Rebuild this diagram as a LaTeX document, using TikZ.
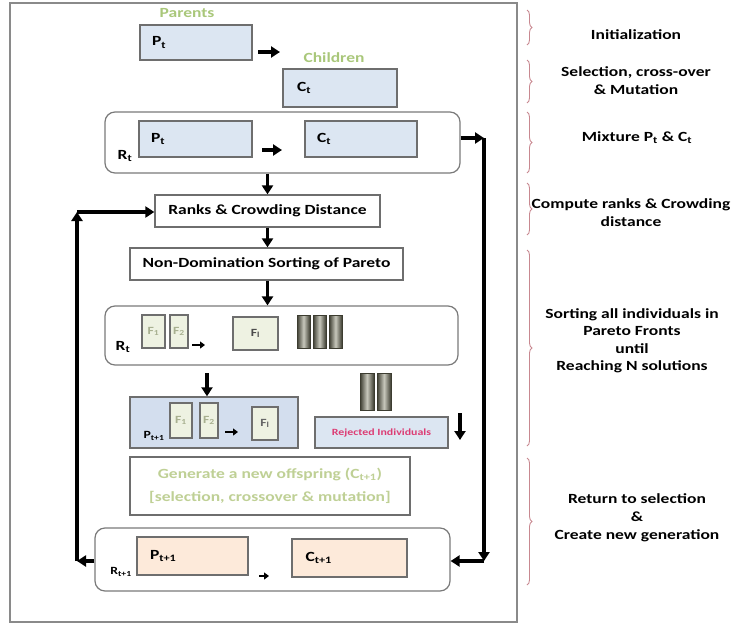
\documentclass[tikz,border=0pt]{standalone}
\usepackage{fontspec}
\setmainfont[FakeStretch=1.25]{Carlito}
\usetikzlibrary{arrows.meta,decorations.pathreplacing}
\definecolor{boxblue}{HTML}{DCE6F2}
\definecolor{boxblue2}{HTML}{D3DEEE}
\definecolor{peach}{HTML}{FDEADA}
\definecolor{fcream}{HTML}{EEF2E2}
\definecolor{boxline}{HTML}{6E6E6E}
\definecolor{roundline}{HTML}{7A7A7A}
\definecolor{frameline}{HTML}{8A8A8A}
\definecolor{lgreen}{HTML}{A9C77A}
\definecolor{pgreen}{HTML}{BFD095}
\definecolor{rejred}{HTML}{DC3C74}
\definecolor{bracecol}{HTML}{C88890}
\definecolor{bardark}{HTML}{3C3C30}
\definecolor{barlight}{HTML}{C8C8BC}
\definecolor{ftext}{HTML}{A8B090}
\begin{document}
\begin{tikzpicture}[x=1pt,y=-1pt,
  every node/.style={font=\fontsize{14}{17}\selectfont\bfseries},
  ar/.style={line width=3.3pt,-{Triangle[length=9pt,width=11pt]}},
  sar/.style={line width=2.8pt,-{Triangle[length=5pt,width=7pt]}},
  bluebox/.style={draw=boxline,line width=1.4pt,fill=boxblue,inner xsep=12pt,inner ysep=0pt,align=left},
  peachbox/.style={draw=boxline,line width=1.4pt,fill=peach,inner xsep=13pt,inner ysep=0pt,align=left},
  plainbox/.style={draw=boxline,line width=1.3pt,fill=white,inner sep=0pt,align=center},
  roundbox/.style={draw=roundline,line width=1.2pt,rounded corners=10pt,inner sep=0pt},
  fbox/.style={draw=boxline,line width=1.2pt,fill=fcream,inner sep=0pt,font=\fontsize{11}{12}\selectfont\bfseries,text=ftext},
  lab/.style={inner sep=0pt},
  grn/.style={inner sep=0pt,text=lgreen},
  rt/.style={inner sep=0pt,align=center,font=\fontsize{14}{18}\selectfont\bfseries},
  bracedeco/.style={draw=bracecol,line width=0.9pt,decorate,decoration={brace,amplitude=5pt}},
  bar/.style={draw=bardark,line width=0.6pt,left color=bardark,right color=bardark,middle color=barlight}
]
\useasboundingbox (0,0) rectangle (737,627);
% outer frame
\draw[frameline,line width=1.5pt] (10,3) rectangle (517,622);

% initialization
\node[grn] (parents) at (187,13) {Parents};
\node[bluebox,text width=88pt,minimum height=35pt] (Pt) at (196,42.5) {P\textsubscript{t}};
\coordinate (a1s) at (258,52);
\coordinate (a1e) at (280,52);
\draw[ar] (a1s) -- (a1e);
\node[grn] (children) at (334,58) {Children};
\node[bluebox,text width=86pt,minimum height=38pt,inner xsep=14pt] (Ct) at (340,88) {C\textsubscript{t}};

% R_t mixture
\node[roundbox,minimum width=355pt,minimum height=61pt] (Rt) at (282.5,142.5) {};
\node[lab] (RtL) at (125,156) {R\textsubscript{t}};
\node[bluebox,text width=89pt,minimum height=36pt] (Pt2) at (195.5,139) {P\textsubscript{t}};
\coordinate (a2s) at (262,150);
\coordinate (a2e) at (282,150);
\draw[ar] (a2s) -- (a2e);
\node[bluebox,text width=88pt,minimum height=36pt] (Ct2) at (361,139) {C\textsubscript{t}};

% ranks & sorting
\node[plainbox,minimum width=225pt,minimum height=32pt] (ranks) at (267.5,211) {Ranks \& Crowding Distance};
\node[plainbox,minimum width=273pt,minimum height=32pt] (nds) at (266.5,264) {Non-Domination Sorting of Pareto};

% R_t fronts
\node[roundbox,minimum width=353pt,minimum height=59pt] (Rt2) at (281.5,335.5) {};
\node[lab] (Rt2L) at (123,347) {R\textsubscript{t}};
\node[fbox,minimum width=23pt,minimum height=33pt] (F1a) at (153.5,331.5) {F\textsubscript{1}};
\node[fbox,minimum width=18pt,minimum height=33pt] (F2a) at (179,331.5) {F\textsubscript{2}};
\coordinate (a3s) at (192,345);
\coordinate (a3e) at (205,345);
\draw[sar] (a3s) -- (a3e);
\node[fbox,minimum width=45pt,minimum height=33pt,text=black!70] (Fla) at (255.5,333.5) {F\textsubscript{l}};
\shade[bar] (297,315) rectangle (310,348);
\shade[bar] (313,315) rectangle (326,348);
\shade[bar] (329,315) rectangle (342,348);

\draw[ar] (ranks.north |- Rt.south) -- (ranks.north);
\draw[ar] (ranks.south) -- (ranks.south |- nds.north);
\draw[ar] (ranks.south |- nds.south) -- (ranks.south |- Rt2.north);

% P_{t+1}
\node[draw=boxline,line width=1.4pt,fill=boxblue2,minimum width=168pt,minimum height=51pt,inner sep=0pt] (Pt1) at (214,422.5) {};
\coordinate (a4s) at (207,373);
\draw[ar] (a4s) -- (Pt1.north -| a4s);
\node[lab,font=\fontsize{11}{12}\selectfont\bfseries] (Pt1L) at (154,436) {P\textsubscript{t+1}};
\node[fbox,minimum width=22pt,minimum height=35pt] (F1b) at (181,420.5) {F\textsubscript{1}};
\node[fbox,minimum width=18pt,minimum height=35pt] (F2b) at (209,420.5) {F\textsubscript{2}};
\coordinate (a5s) at (225,432);
\coordinate (a5e) at (238,432);
\draw[sar] (a5s) -- (a5e);
\node[fbox,minimum width=26pt,minimum height=33pt,text=black!60] (Flb) at (265,423.5) {F\textsubscript{l}};

% rejected
\shade[bar] (360,373) rectangle (374,410);
\shade[bar] (377,373) rectangle (391,410);
\node[draw=boxline,line width=1.3pt,fill=boxblue,minimum width=133pt,minimum height=31pt,inner sep=0pt,text=rejred,font=\fontsize{9.5}{11}\selectfont\bfseries] (rej) at (381.5,432.5) {Rejected Individuals};
\coordinate (a6s) at (460,413);
\coordinate (a6e) at (460,440);
\draw[ar] (a6s) -- (a6e);

% generate
\node[plainbox,minimum width=280pt,minimum height=58pt,text=pgreen,font=\fontsize{14}{23}\selectfont\bfseries] (gen) at (270,486) {Generate a new offspring (C\textsubscript{t+1})\\{[}selection, crossover \& mutation{]}};

% R_{t+1}
\node[roundbox,minimum width=355pt,minimum height=63pt] (Rt1) at (272.5,559.5) {};
\node[lab,font=\fontsize{11}{12}\selectfont\bfseries] (Rt1L) at (121,572) {R\textsubscript{t+1}};
\node[peachbox,minimum height=38pt,text width=85pt] (Pt1b) at (192.5,556) {P\textsubscript{t+1}};
\coordinate (a7s) at (259,576);
\coordinate (a7e) at (269,576);
\draw[sar] (a7s) -- (a7e);
\node[peachbox,minimum height=38pt,text width=88pt,inner xsep=13.5pt] (Ct1) at (349.5,558) {C\textsubscript{t+1}};

% loops
\coordinate (cR1) at (484,138);
\coordinate (cR2) at (484,561);
\draw[ar] (Rt.east |- cR1) -- (cR1);
\draw[ar] (cR1) -- (cR2);
\draw[ar] (cR2) -- (Rt1.east |- cR2);
\coordinate (cL1) at (77,561);
\coordinate (cL2) at (77,212);
\draw[ar] (Rt1.west |- cL1) -- (cL1);
\draw[ar] (cL1) -- (cL2);
\draw[ar] (cL2) -- (ranks.west |- cL2);

% braces and stage labels
\draw[bracedeco] (527,10) -- (527,45);
\draw[bracedeco] (527,60) -- (527,103);
\draw[bracedeco] (527,112) -- (527,173);
\draw[bracedeco] (527,183) -- (527,235);
\draw[bracedeco] (527,250) -- (527,446);
\draw[bracedeco] (527,458) -- (527,585);
\node[rt] (s1) at (636,35) {Initialization};
\node[rt] (s2) at (636,81) {Selection, cross-over\\\& Mutation};
\node[rt] (s3) at (637,138) {Mixture P\textsubscript{t} \& C\textsubscript{t}};
\node[rt] (s4) at (631,213) {Compute ranks \& Crowding\\distance};
\node[rt,font=\fontsize{14}{17.5}\selectfont\bfseries] (s5) at (632,341) {Sorting all individuals in\\Pareto Fronts\\until\\Reaching N solutions};
\node[rt] (s6) at (637,518) {Return to selection\\\&\\Create new generation};
\end{tikzpicture}
\end{document}
